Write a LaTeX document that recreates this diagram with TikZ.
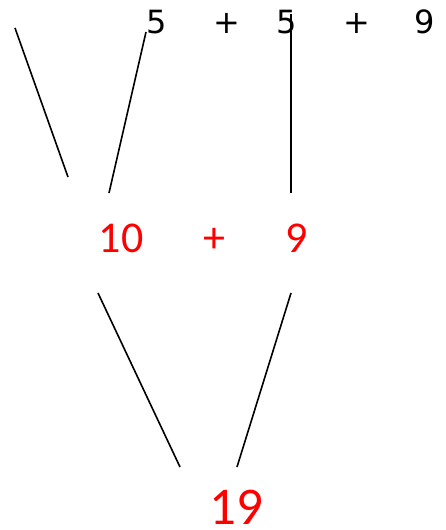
\documentclass[tikz,border=0pt]{standalone}
\usepackage{fontspec}
\setmainfont{Carlito}
\newfontfamily\topfont{DejaVu Sans}
\usepackage{tikz}
\usetikzlibrary{positioning}
\definecolor{ink}{HTML}{000000}
\definecolor{sumred}{HTML}{FF0000}

\begin{document}
\begin{tikzpicture}[x=1pt,y=-1pt,
    every node/.style={inner sep=0pt,anchor=base},
    topnum/.style={color=ink,font=\topfont\fontsize{32}{32}\selectfont},
    midnum/.style={color=sumred,font=\fontsize{44}{44}\selectfont},
    endnum/.style={color=sumred,font=\fontsize{53}{53}\selectfont},
    branch/.style={ink,line width=1.6pt}]
  \useasboundingbox (0,0) rectangle (446,530);
  % first row: 5 + 5 + 9
  \node[topnum] (a) at (157,33) {5};
  \node[topnum] (p1) at (227,33) {+};
  \node[topnum] (b) at (287,33) {5};
  \node[topnum] (p2) at (357,33) {+};
  \node[topnum] (c) at (425,33) {9};
  % second row: 10 + 9
  \node[midnum] (ab) at (121,252) {10};
  \node[midnum] (p3) at (214,252) {+};
  \node[midnum] (cc) at (297,252) {9};
  % result
  \node[endnum] (sum) at (236,524) {19};
  % branch ends
  \coordinate (l1a) at (15,28);   \coordinate (l1b) at (68,177);
  \coordinate (l2a) at (146,32);  \coordinate (l2b) at (109,193);
  \coordinate (l3a) at (291,14);  \coordinate (l3b) at (291,193);
  \coordinate (l4a) at (98,293);  \coordinate (l4b) at (180,467);
  \coordinate (l5a) at (291,293); \coordinate (l5b) at (237,467);
  \draw[branch] (l1a) -- (l1b);
  \draw[branch] (l2a) -- (l2b);
  \draw[branch] (l3a) -- (l3b);
  \draw[branch] (l4a) -- (l4b);
  \draw[branch] (l5a) -- (l5b);
\end{tikzpicture}
\end{document}
